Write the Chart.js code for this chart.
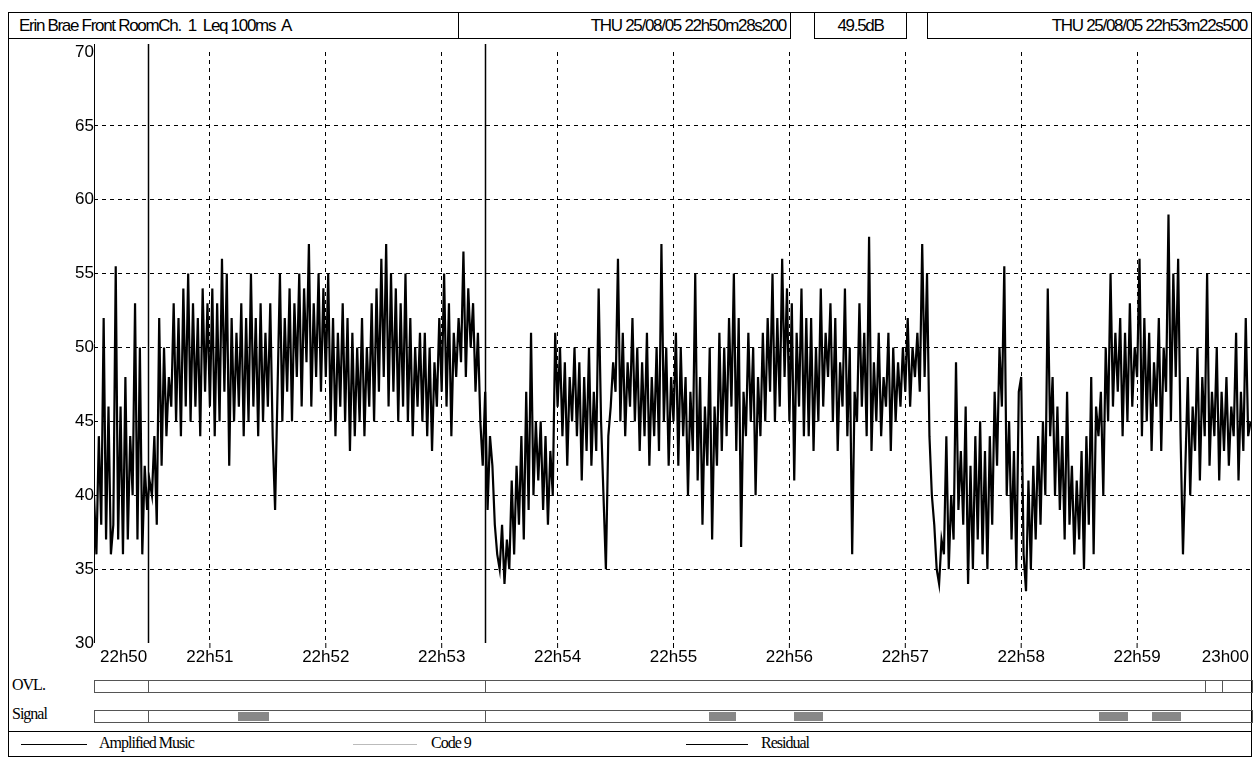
<!DOCTYPE html>
<html><head><meta charset="utf-8">
<script src="https://cdn.jsdelivr.net/npm/chart.js@4"></script>
<style>
body{margin:0;background:#fff;font-family:"Liberation Sans Narrow","Liberation Sans",Arial,sans-serif;}
#frame{position:absolute;left:8px;top:12px;width:1244px;height:745px;border:1px solid #000;border-bottom:none;box-sizing:border-box}
.box{position:absolute;top:12px;height:27px;border:1px solid #000;box-sizing:border-box;font-size:17px;line-height:25px;letter-spacing:-1.3px;white-space:nowrap;overflow:hidden}
#wrap{position:absolute;left:0;top:40px;width:1259px;height:629px}
.bar{position:absolute;height:13px;border:1px solid #555;box-sizing:border-box}
.lbl{position:absolute;left:12px;font-family:"Liberation Serif",serif;font-size:16px;letter-spacing:-1px}
.tick{position:absolute;top:0;width:1px;height:100%;background:#555}
.blk{position:absolute;top:1px;height:9px;background:#888}
#legend{position:absolute;left:8px;top:731px;width:1244px;height:26px;border:1px solid #000;box-sizing:border-box;font-family:"Liberation Serif",serif;font-size:16px;letter-spacing:-1px}
</style></head><body>
<div id="frame"></div>
<div class="box" style="left:8px;width:451px;padding-left:10px">Erin Brae Front RoomCh.&nbsp; 1&nbsp; Leq 100ms&nbsp; A</div>
<div class="box" style="left:458px;width:333px;text-align:right;padding-right:4px">THU 25/08/05 22h50m28s200</div>
<div class="box" style="left:814px;width:93px;text-align:center">49.5dB</div>
<div class="box" style="left:927px;width:325px;text-align:right;padding-right:4px">THU 25/08/05 22h53m22s500</div>
<div id="wrap"><canvas id="c"></canvas></div>
<div class="lbl" style="top:676px">OVL.</div>
<div class="lbl" style="top:705px">Signal</div>
<div id="ovl" class="bar" style="top:680px"></div>
<div id="sig" class="bar" style="top:710px"></div>
<div id="legend">
  <div style="position:absolute;left:12px;top:12px;width:66px;border-top:1px solid #000"></div>
  <div style="position:absolute;left:90px;top:2px">Amplified Music</div>
  <div style="position:absolute;left:344px;top:12px;width:64px;border-top:1px solid #bbb"></div>
  <div style="position:absolute;left:422px;top:2px">Code 9</div>
  <div style="position:absolute;left:677px;top:12px;width:62px;border-top:1px solid #000"></div>
  <div style="position:absolute;left:752px;top:2px">Residual</div>
</div>
<script>
// seconds after 22h50m00s, one value every 1.25 s
var stepSec = 1.25;
var levels = [
40,36,44,38,52,37,46,36, 38,55.5,37,46,36,48,37,44, 40,53,37,50,36,42,39,41, 40,44,38,52,42,50,44,48,
46,53,45,52,44,54,46,55, 45,53,46,52,44,54,47,53, 46,54,44,53,45,56,47,55, 42,52,45,51,46,53,44,52,
45,55,46,52,44,53,45,51, 46,53,44,39,47,55,45,52, 47,54,45,53,48,55,46,54, 49,57,46,53,48,55,47,54,
48,55,45,52,44,51,46,53, 45,52,43,51,44,50,45,52, 44,50,46,53,45,54,47,56, 48,57,46,55,47,54,45,53,
46,55,45,52,44,50,46,51, 45,51,44,50,43,49,46,52, 47,55,46,53,44,51,48,52, 49,56.5,48,54,50,53,47,51,
45,42,47,39,44,42,38,36, 35,38,34,37,35,41,36,42, 38,44,37,47,39,51,40,45, 41,45,39,44,38,43,40,51,
46,50,44,49,42,48,45,50, 44,49,41,48,43,50,42,47, 43,54,45,40,35,44,46,49, 47,56,45,51,44,49,46,52,
45,50,43,49,44,51,42,48, 44,50,43,57,45,50,42,48, 45,51,42,50,44,48,40,47, 43,55,41,48,38,46,42,50,
37,46,42,51,43,50,44,52, 46,55,43,52,36.5,47,44,51, 45,50,40,48,44,51,45,52, 47,55,45,52,46,56,48,54,
45,53,41,51,46,54,44,52, 44,52,43,50,45,54,46,51, 48,53,45,52,43,49,46,54, 44,50,36,47,45,53,46,51,
44,57.5,43,49,45,51,44,48, 46,51,43,50,45,49,46,50, 47,52,46,50,48,51,47,57, 48,55,44,40,38,35,34,37,
36,44,35,40,37,49,39,43, 38,46,34,42,35,44,37,45, 36,43,35,44,38,47,42,50, 46,55.5,40,45,37,43,35,47,
48,36,33.5,41,35,42,37,44, 38,45,40,54,44,48,40,46, 39,44,37,47,38,42,36,41, 37,43,35,44,38,48,36,46,
44,47,40,50,45,55,46,51, 47,52,44,51,45,53,46,50, 48,56,44,52,45,51,43,49, 46,52,43,50,47,59,45,55,
48,56,44,36,42,48,40,46, 43,50,41,48,44,55,42,47, 44,50,41,47,43,48,42,46, 44,51,41,47,43,52,44,45
];
var tickLabels = ['22h50','22h51','22h52','22h53','22h54','22h55','22h56','22h57','22h58','22h59','23h00'];
var yTicks = [30,35,40,45,50,55,60,65,70];
var cursorSec = [28.2, 202.5];
var ovlMarks = [28.2, 202.5, 575, 584];
var signalMarks = [28.2, 202.5];
var signalBlocks = [[74,90],[318,332],[362,377],[520,535],[547,562]];

var points = levels.map(function(v, i){ return {x: i*stepSec, y: v}; });

var decor = {
    id: 'decor',
    afterDraw: function(chart){
        var ctx = chart.ctx, a = chart.chartArea, xs = chart.scales.x;
        ctx.save();
        ctx.strokeStyle = '#000'; ctx.lineWidth = 1.5;
        cursorSec.forEach(function(s){
            var px = Math.round(xs.getPixelForValue(s)) + 0.5;
            ctx.beginPath(); ctx.moveTo(px, a.top - 8); ctx.lineTo(px, a.bottom); ctx.stroke();
        });
        ctx.lineWidth = 1;
        ctx.beginPath(); ctx.moveTo(a.left + 0.5, a.top - 8); ctx.lineTo(a.left + 0.5, a.bottom); ctx.stroke();
        ctx.fillStyle = '#000';
        ctx.font = '17px "Liberation Sans Narrow", "Liberation Sans", Arial';
        ctx.textBaseline = 'top';
        tickLabels.forEach(function(t, i){
            var px = xs.getPixelForValue(i*60);
            if (i > 0 && i < 10) { ctx.beginPath(); ctx.moveTo(px, a.bottom); ctx.lineTo(px, a.bottom + 5); ctx.stroke(); }
            ctx.textAlign = i == 0 ? 'left' : (i == 10 ? 'right' : 'center');
            var lx = i == 0 ? px + 6 : (i == 10 ? px - 4 : px);
            ctx.fillText(t, lx, a.bottom + 6);
        });
        ctx.restore();
    }
};

var chart = new Chart(document.getElementById('c'), {
    type: 'line',
    data: { datasets: [{ data: points, borderColor: '#000', borderWidth: 2.2, pointRadius: 0, tension: 0 }] },
    options: {
        responsive: true, maintainAspectRatio: false, animation: false,
        layout: { padding: { top: 12, right: 6, left: 0, bottom: 0 } },
        plugins: { legend: { display: false }, tooltip: { enabled: false } },
        scales: {
            x: {
                type: 'linear', min: 0, max: 600,
                afterFit: function(s){ s.height = 26; },
                ticks: { display: false, stepSize: 60 },
                border: { display: false, dash: [4,4] },
                grid: { color: function(c){ return (c.tick.value == 0 || c.tick.value == 600) ? 'rgba(0,0,0,0)' : '#000'; },
                        tickLength: 0, lineWidth: 1 }
            },
            y: {
                min: 30, max: 70,
                afterFit: function(s){ s.width = 94; },
                afterBuildTicks: function(s){ s.ticks = yTicks.map(function(v){ return {value: v}; }); },
                ticks: { color: '#000', padding: 0, font: { family: '"Liberation Sans Narrow", "Liberation Sans", Arial', size: 17 } },
                border: { display: false, dash: [4,4] },
                grid: { color: function(c){ return (c.tick.value == 30 || c.tick.value == 70) ? 'rgba(0,0,0,0)' : '#000'; },
                        tickLength: 0, lineWidth: 1 }
            }
        }
    },
    plugins: [decor]
});

// bottom OVL / Signal strips, placed through the x scale
function buildStrip(el, marks, blocks){
    var xs = chart.scales.x, left = xs.getPixelForValue(0), right = xs.getPixelForValue(600);
    el.style.left = left + 'px';
    el.style.width = (right - left) + 'px';
    marks.forEach(function(s){
        var d = document.createElement('div'); d.className = 'tick';
        d.style.left = (xs.getPixelForValue(s) - left - 1) + 'px'; el.appendChild(d);
    });
    blocks.forEach(function(b){
        var d = document.createElement('div'); d.className = 'blk';
        var p0 = xs.getPixelForValue(b[0]), p1 = xs.getPixelForValue(b[1]);
        d.style.left = (p0 - left) + 'px'; d.style.width = (p1 - p0) + 'px'; el.appendChild(d);
    });
}
buildStrip(document.getElementById('ovl'), ovlMarks, []);
buildStrip(document.getElementById('sig'), signalMarks, signalBlocks);
</script>
</body></html>
